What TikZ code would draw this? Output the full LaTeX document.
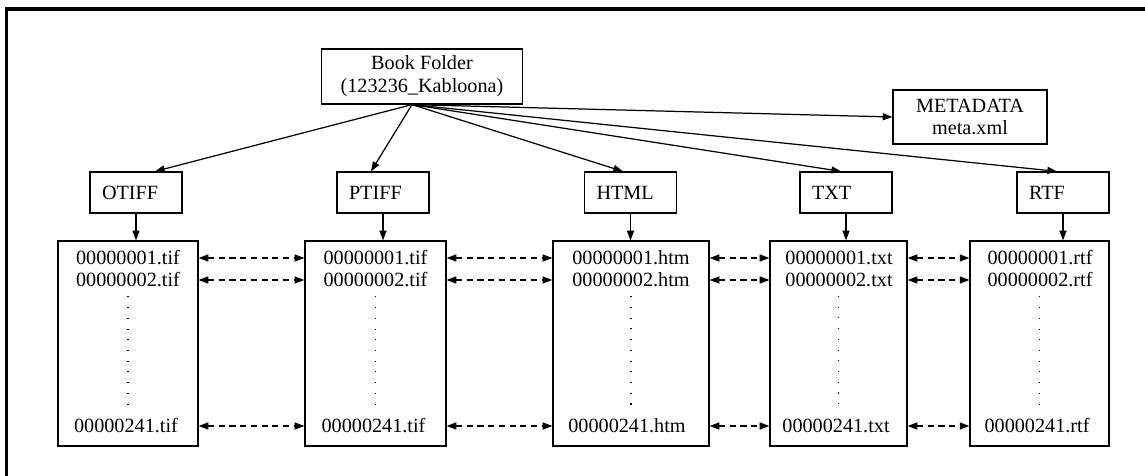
\documentclass[tikz,border=0pt]{standalone}
\usepackage{fontspec}
\setmainfont{Liberation Serif}
\usetikzlibrary{arrows.meta}

\begin{document}
\begin{tikzpicture}[x=0.02cm,y=-0.02cm,
  font=\fontsize{11.5}{13}\selectfont,
  folder/.style={draw,line width=0.7pt,align=center,inner sep=0pt},
  kind/.style={draw,line width=0.7pt,inner xsep=0.24cm,inner ysep=0pt,text width=1.36cm,minimum height=0.82cm,align=left},
  pages/.style={draw,line width=0.7pt,minimum height=4.1cm,inner sep=0pt},
  fname/.style={inner sep=0pt},
  branch/.style={line width=0.7pt,-{Triangle[length=5.5pt,width=4pt]}},
  link/.style={line width=0.7pt,dash pattern=on 3.5pt off 2.6pt,{Triangle[length=5.5pt,width=4pt]}-{Triangle[length=5.5pt,width=4pt]}},
  ellipsis/.style={line width=0.6pt,dash pattern=on 0.6pt off 5.5pt}]
\useasboundingbox (0,0) rectangle (1145,476);

%% frame
\draw[line width=1.9pt] (6.7,476) |- (1145,9);

%% folders
\node[folder,minimum width=4.02cm,minimum height=1.1cm] (book) at (422,76.5) {Book Folder\\(123236\_Kabloona)};
\node[folder,minimum width=3.08cm,minimum height=1.08cm] (meta) at (970,117) {METADATA\\meta.xml};
\coordinate (hub) at ([xshift=-0.2cm]book.south);

\node[kind] (otiff) at (136,192.5) {OTIFF};
\node[kind] (ptiff) at (383,192.5) {PTIFF};
\node[kind] (html) at (630.5,192.5) {HTML};
\node[kind] (txt) at (846,192.5) {TXT};
\node[kind] (rtf) at (1063,192.5) {RTF};

%% page boxes
\node[pages,minimum width=2.8cm] (otiffpg) at (128,343.5) {};
\node[pages,minimum width=2.82cm] (ptiffpg) at (375.5,343.5) {};
\node[pages,minimum width=3.12cm] (htmlpg) at (631,343.5) {};
\node[pages,minimum width=2.74cm] (txtpg) at (838.5,343.5) {};
\node[pages,minimum width=2.78cm] (rtfpg) at (1039.5,343.5) {};

%% file names
\node[fname] (otiffa) at (128,258) {00000001.tif};
\node[fname] (otiffb) at (128,280) {00000002.tif};
\node[fname] (otiffz) at (126,426) {00000241.tif};
\node[fname] (ptiffa) at (375.5,258) {00000001.tif};
\node[fname] (ptiffb) at (375.5,280) {00000002.tif};
\node[fname] (ptiffz) at (373.5,426) {00000241.tif};
\node[fname] (htmla) at (631,258) {00000001.htm};
\node[fname] (htmlb) at (631,280) {00000002.htm};
\node[fname] (htmlz) at (627,426) {00000241.htm};
\node[fname] (txta) at (839,258) {00000001.txt};
\node[fname] (txtb) at (839,280) {00000002.txt};
\node[fname] (txtz) at (836,426) {00000241.txt};
\node[fname] (rtfa) at (1040,258) {00000001.rtf};
\node[fname] (rtfb) at (1040,280) {00000002.rtf};
\node[fname] (rtfz) at (1037,426) {00000241.rtf};

%% dots
\draw[ellipsis,shorten <=5pt,shorten >=5pt] (otiffb.south -| otiffpg) -- (otiffz.north -| otiffpg);
\draw[ellipsis,shorten <=5pt,shorten >=5pt] (ptiffb.south -| ptiffpg) -- (ptiffz.north -| ptiffpg);
\draw[ellipsis,shorten <=5pt,shorten >=5pt] (htmlb.south -| htmlpg) -- (htmlz.north -| htmlpg);
\draw[ellipsis,shorten <=5pt,shorten >=5pt] (txtb.south -| txtpg) -- (txtz.north -| txtpg);
\draw[ellipsis,shorten <=5pt,shorten >=5pt] (rtfb.south -| rtfpg) -- (rtfz.north -| rtfpg);

%% tree edges
\draw[branch] (hub) -- ([xshift=0.38cm]otiff.north);
\draw[branch] (hub) -- ([xshift=-0.24cm]ptiff.north);
\draw[branch] (hub) -- ([xshift=-0.15cm]html.north);
\draw[branch] (hub) -- ([xshift=-0.1cm]txt.north);
\draw[branch] (hub) -- ([xshift=-0.12cm]rtf.north);
\draw[branch] (hub) -- (meta.west);

\draw[branch] (otiff) -- (otiff |- otiffpg.north);
\draw[branch] (ptiff) -- (ptiff |- ptiffpg.north);
\draw[branch] (html) -- (html |- htmlpg.north);
\draw[branch] (txt) -- (txt |- txtpg.north);
\draw[branch] (rtf) -- (rtf |- rtfpg.north);

%% links between page files
\draw[link] (otiffa -| otiffpg.east) -- (otiffa -| ptiffpg.west);
\draw[link] (otiffb -| otiffpg.east) -- (otiffb -| ptiffpg.west);
\draw[link] (otiffz -| otiffpg.east) -- (otiffz -| ptiffpg.west);
\draw[link] (ptiffa -| ptiffpg.east) -- (ptiffa -| htmlpg.west);
\draw[link] (ptiffb -| ptiffpg.east) -- (ptiffb -| htmlpg.west);
\draw[link] (ptiffz -| ptiffpg.east) -- (ptiffz -| htmlpg.west);
\draw[link] (htmla -| htmlpg.east) -- (htmla -| txtpg.west);
\draw[link] (htmlb -| htmlpg.east) -- (htmlb -| txtpg.west);
\draw[link] (htmlz -| htmlpg.east) -- (htmlz -| txtpg.west);
\draw[link] (txta -| txtpg.east) -- (txta -| rtfpg.west);
\draw[link] (txtb -| txtpg.east) -- (txtb -| rtfpg.west);
\draw[link] (txtz -| txtpg.east) -- (txtz -| rtfpg.west);
\end{tikzpicture}
\end{document}
